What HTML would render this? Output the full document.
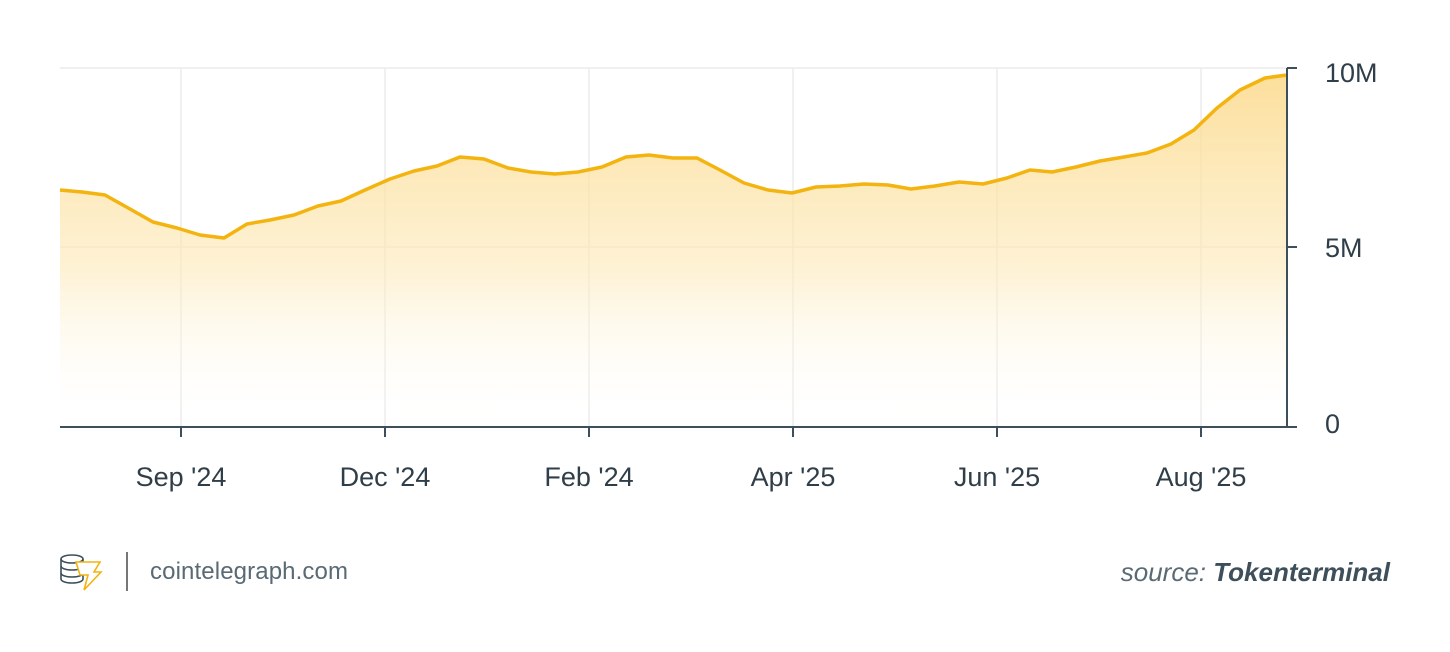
<!DOCTYPE html>
<html><head><meta charset="utf-8"><style>
html,body{margin:0;padding:0;background:#fff;width:1450px;height:652px;overflow:hidden;font-family:"Liberation Sans",sans-serif}
</style></head><body>
<svg width="1450" height="652" viewBox="0 0 1450 652" xmlns="http://www.w3.org/2000/svg">
<defs><linearGradient id="g" x1="0" y1="0" x2="0" y2="1">
<stop offset="0" stop-color="#fbd98a" stop-opacity="0.85"/>
<stop offset="0.55" stop-color="#fde9b8" stop-opacity="0.6"/>
<stop offset="1" stop-color="#fff" stop-opacity="0"/></linearGradient></defs>
<g stroke="#ececec" stroke-width="1.5">
<line x1="60" y1="68" x2="1287" y2="68"/><line x1="60" y1="247" x2="1287" y2="247"/>
<line x1="181" y1="68" x2="181" y2="427"/><line x1="385" y1="68" x2="385" y2="427"/>
<line x1="589" y1="68" x2="589" y2="427"/><line x1="793" y1="68" x2="793" y2="427"/>
<line x1="997" y1="68" x2="997" y2="427"/><line x1="1201" y1="68" x2="1201" y2="427"/>
</g>
<path fill="url(#g)" d="M60,190 L82,192 105,195 130,209 153,222 177,228 200,235 224,238 247,224 270,220 294,215 318,206 341,201 365,190 390,179 414,171 437,166 460,157 484,159 508,168 531,172 555,174 578,172 602,167 626,157 649,155 673,158 697,158 720,170 744,183 768,190 792,193 816,187 840,186 864,184 888,185 911,189 935,186 959,182 983,184 1007,178 1030,170 1052,172 1076,167 1100,161 1124,157 1147,153 1171,144 1194,130 1217,108 1240,90 1265,78 1287,75 L1287,427 L60,427 Z"/>
<polyline fill="none" stroke="#f4b40f" stroke-width="3.5" stroke-linejoin="round" points="60,190 82,192 105,195 130,209 153,222 177,228 200,235 224,238 247,224 270,220 294,215 318,206 341,201 365,190 390,179 414,171 437,166 460,157 484,159 508,168 531,172 555,174 578,172 602,167 626,157 649,155 673,158 697,158 720,170 744,183 768,190 792,193 816,187 840,186 864,184 888,185 911,189 935,186 959,182 983,184 1007,178 1030,170 1052,172 1076,167 1100,161 1124,157 1147,153 1171,144 1194,130 1217,108 1240,90 1265,78 1287,75"/>
<g stroke="#3d4f5a" stroke-width="2" fill="none">
<line x1="60" y1="427" x2="1287" y2="427"/>
<line x1="1287" y1="68" x2="1287" y2="427"/>
<line x1="1287" y1="68" x2="1297" y2="68"/><line x1="1287" y1="247" x2="1297" y2="247"/><line x1="1287" y1="427" x2="1297" y2="427"/>
<line x1="181" y1="427" x2="181" y2="437"/><line x1="385" y1="427" x2="385" y2="437"/><line x1="589" y1="427" x2="589" y2="437"/>
<line x1="793" y1="427" x2="793" y2="437"/><line x1="997" y1="427" x2="997" y2="437"/><line x1="1201" y1="427" x2="1201" y2="437"/>
</g>
<g fill="#2f3e48" font-size="27" font-family="Liberation Sans, sans-serif">
<text x="1325" y="82">10M</text><text x="1325" y="257">5M</text><text x="1325" y="433">0</text>
<g text-anchor="middle"><text x="181" y="486">Sep '24</text><text x="385" y="486">Dec '24</text><text x="589" y="486">Feb '24</text>
<text x="793" y="486">Apr '25</text><text x="997" y="486">Jun '25</text><text x="1201" y="486">Aug '25</text></g>
</g>
<g fill="none" stroke="#3d4f5a" stroke-width="1.6">
<ellipse cx="72" cy="559" rx="11" ry="4"/><path d="M61,559 v20 a11,4 0 0 0 22,0 v-20"/><path d="M61,566 a11,4 0 0 0 22,0 M61,573 a11,4 0 0 0 22,0"/>
</g>
<path d="M76,562 L100,562 L94,572 L101,572 L84,590 L88,575 L80,575 Z" fill="#fff" stroke="#f4b40f" stroke-width="1.6"/>
<line x1="127" y1="552" x2="127" y2="591" stroke="#777" stroke-width="2"/>
<text x="150" y="579" font-size="24" fill="#5a6a74" font-family="Liberation Sans, sans-serif" textLength="198">cointelegraph.com</text>
<text x="1390" y="581" font-size="26" text-anchor="end" font-style="italic" fill="#5a6a74" font-family="Liberation Sans, sans-serif">source: <tspan font-weight="bold" fill="#3d4f5a">Tokenterminal</tspan></text>
</svg>
</body></html>
